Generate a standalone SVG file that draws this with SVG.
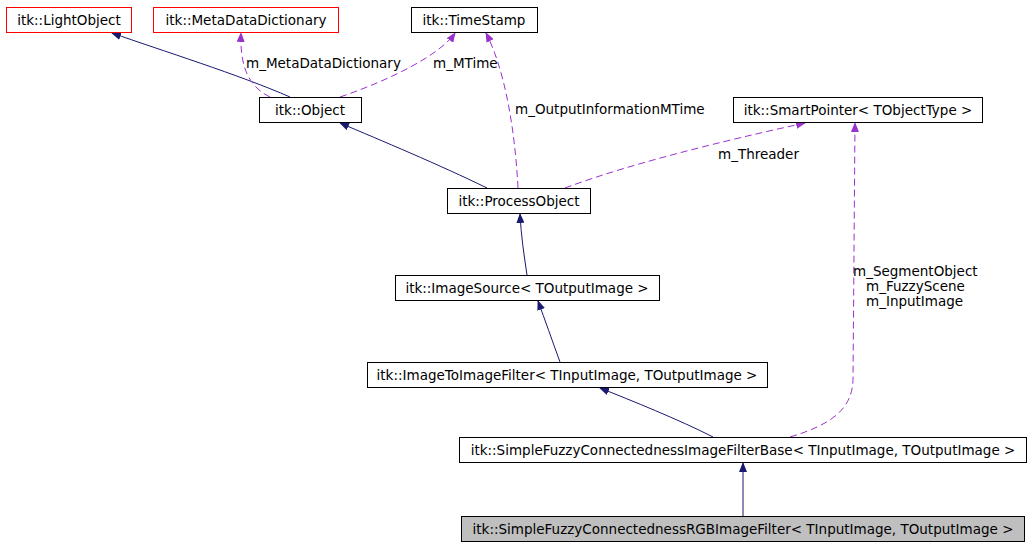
<svg xmlns="http://www.w3.org/2000/svg" width="1031" height="547" viewBox="0 0 1031 547">
<defs>
<style>
text{font-family:"DejaVu Sans",sans-serif;font-size:13.5px;fill:#000}
.n rect{fill:#fff;stroke:#000;stroke-width:1}
.r rect{stroke:#f00}
.g rect{fill:#bfbfbf}
.n text{text-anchor:middle}
.inh{fill:none;stroke:#191970;stroke-width:1}
.use{fill:none;stroke:#9a32cd;stroke-width:1;stroke-dasharray:7,4}
</style>
<marker id="ai" markerWidth="10" markerHeight="8" refX="9" refY="4" orient="auto" markerUnits="userSpaceOnUse"><path d="M0,0 L10,4 L0,8 z" fill="#191970"/></marker>
<marker id="au" markerWidth="10" markerHeight="8" refX="9" refY="4" orient="auto" markerUnits="userSpaceOnUse"><path d="M0,0 L10,4 L0,8 z" fill="#9a32cd"/></marker>
</defs>
<rect width="1031" height="547" fill="#fff"/>
<g id="connectors">
<path class="inh" d="M290,97 C240,75 160,50 112,33" marker-end="url(#ai)"/>
<path class="use" d="M270,97 C245,85 240,60 241,33" marker-end="url(#au)"/>
<path class="use" d="M340,97 C390,80 440,55 455,33" marker-end="url(#au)"/>
<path class="inh" d="M487,188 C440,165 380,140 340,123" marker-end="url(#ai)"/>
<path class="use" d="M518,188 C515,130 505,70 486,33" marker-end="url(#au)"/>
<path class="use" d="M565,188 C640,160 750,135 805,123" marker-end="url(#au)"/>
<path class="inh" d="M527,275 C524,255 521,235 520,214" marker-end="url(#ai)"/>
<path class="inh" d="M560,362 C552,340 545,320 538,301" marker-end="url(#ai)"/>
<path class="inh" d="M713,437 C680,420 630,400 600,388" marker-end="url(#ai)"/>
<path class="use" d="M790,437 C830,425 852,410 853,380 L855,123" marker-end="url(#au)"/>
<path class="inh" d="M743,516 L743,463" marker-end="url(#ai)"/>
<text x="246" y="68">m_MetaDataDictionary</text>
<text x="433" y="68">m_MTime</text>
<text x="515" y="114">m_OutputInformationMTime</text>
<text x="718" y="159">m_Threader</text>
<text x="853" y="276">m_SegmentObject</text>
<text x="866" y="291">m_FuzzyScene</text>
<text x="866" y="306">m_InputImage</text>
</g>
<g id="LightObject" class="n r"><rect x="6.5" y="7.5" width="125" height="25"/><text x="69" y="25">itk::LightObject</text></g>
<g id="MetaDataDictionary" class="n r"><rect x="153.5" y="7.5" width="185" height="25"/><text x="246" y="25">itk::MetaDataDictionary</text></g>
<g id="TimeStamp" class="n"><rect x="411.5" y="7.5" width="126" height="25"/><text x="474" y="25">itk::TimeStamp</text></g>
<g id="Object" class="n"><rect x="259.5" y="97.5" width="102" height="25"/><text x="310" y="115">itk::Object</text></g>
<g id="SmartPointer" class="n"><rect x="733.5" y="97.5" width="249" height="25"/><text x="858" y="115">itk::SmartPointer&lt; TObjectType &gt;</text></g>
<g id="ProcessObject" class="n"><rect x="447.5" y="188.5" width="143" height="25"/><text x="519" y="206">itk::ProcessObject</text></g>
<g id="ImageSource" class="n"><rect x="395.5" y="275.5" width="264" height="25"/><text x="527" y="293">itk::ImageSource&lt; TOutputImage &gt;</text></g>
<g id="ImageToImageFilter" class="n"><rect x="367.5" y="362.5" width="400" height="25"/><text x="567" y="380">itk::ImageToImageFilter&lt; TInputImage, TOutputImage &gt;</text></g>
<g id="Base" class="n"><rect x="459.5" y="437.5" width="567" height="25"/><text x="743" y="455">itk::SimpleFuzzyConnectednessImageFilterBase&lt; TInputImage, TOutputImage &gt;</text></g>
<g id="RGB" class="n g"><rect x="461.5" y="516.5" width="563" height="25"/><text x="743" y="534">itk::SimpleFuzzyConnectednessRGBImageFilter&lt; TInputImage, TOutputImage &gt;</text></g>
</svg>
